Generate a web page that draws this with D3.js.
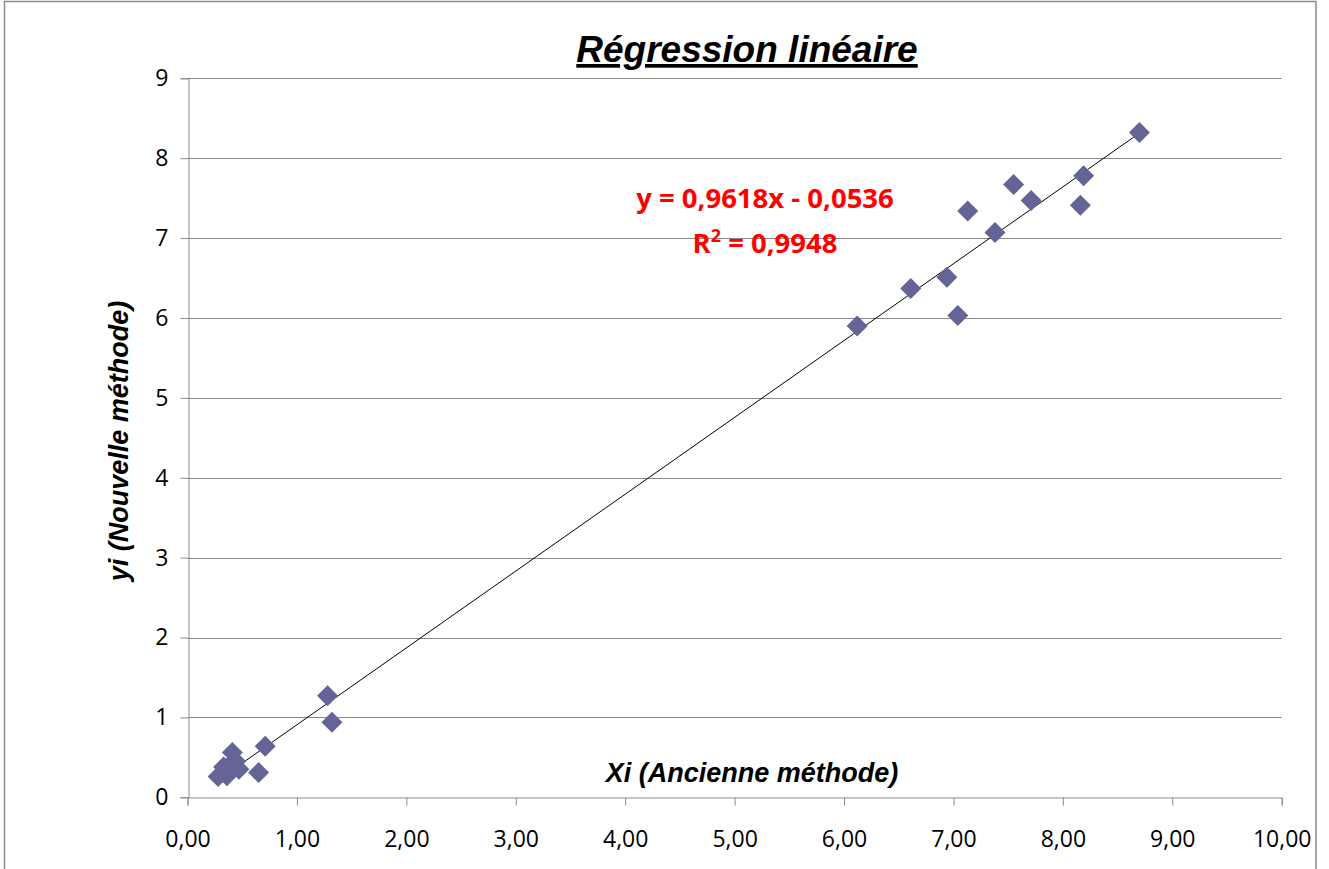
<!DOCTYPE html>
<html>
<head>
<meta charset="utf-8">
<script src="https://cdn.jsdelivr.net/npm/d3@7"></script>
<style>
  html, body { margin: 0; padding: 0; background: #fff; }
  svg { display: block; }
</style>
</head>
<body>
<svg id="chart" width="1329" height="869"></svg>
<script>
// ---- Data ----
const xValues = [0.28, 0.36, 0.33, 0.40, 0.41, 0.47, 0.44, 0.65, 0.71, 1.28, 1.32,
                 6.12, 6.61, 6.94, 7.04, 7.13, 7.38, 7.55, 7.71, 8.16, 8.19, 8.70];
const yValues = [0.26, 0.27, 0.38, 0.42, 0.56, 0.35, 0.45, 0.31, 0.64, 1.27, 0.94,
                 5.90, 6.37, 6.51, 6.03, 7.34, 7.07, 7.67, 7.47, 7.41, 7.78, 8.32];
const xTicks = [0, 1, 2, 3, 4, 5, 6, 7, 8, 9, 10];
const yTicks = [0, 1, 2, 3, 4, 5, 6, 7, 8, 9];
const trendSlope = 0.9618;
const trendIntercept = -0.0536;
const equationText = "y = 0,9618x - 0,0536";
const r2Text = " = 0,9948";
const titleText = "Régression linéaire";
const xLabel = "Xi (Ancienne méthode)";
const yLabel = "yi (Nouvelle méthode)";

const points = xValues.map((x, i) => ({ x, y: yValues[i] }));

// ---- Layout ----
const svg = d3.select("#chart");
const plotLeft = 187.5, plotRight = 1281.7, plotTop = 78.3, plotBottom = 797.3;

const x = d3.scaleLinear().domain([0, 10]).range([plotLeft, plotRight]);
const y = d3.scaleLinear().domain([0, 9]).range([plotBottom, plotTop]);

const gridColor = "#878787";
const axisColor = "#8c8c8c";
const fmtX = d => d.toFixed(2).replace(".", ",");

// chart border
svg.append("rect")
  .attr("x", 4.5).attr("y", 1.5)
  .attr("width", 1311.5).attr("height", 900)
  .attr("fill", "#fff").attr("stroke", "#8c8c8c").attr("stroke-width", 1.5);

// horizontal gridlines
svg.append("g").selectAll("line")
  .data(yTicks.filter(d => d > 0))
  .join("line")
  .attr("x1", plotLeft).attr("x2", plotRight)
  .attr("y1", d => Math.round(y(d)) + 0.5)
  .attr("y2", d => Math.round(y(d)) + 0.5)
  .attr("stroke", gridColor).attr("stroke-width", 1);

// Y axis
const yAxis = d3.axisLeft(y).tickValues(yTicks).tickSize(8).tickPadding(12)
  .tickFormat(d3.format("d"));
const gy = svg.append("g")
  .attr("transform", `translate(${Math.round(plotLeft) + 0.5},0)`)
  .call(yAxis);
gy.select(".domain").attr("stroke", axisColor);
gy.selectAll(".tick line").attr("stroke", axisColor);
gy.selectAll(".tick text")
  .attr("fill", "#000")
  .style("font-family", "'Open Sans', sans-serif")
  .style("font-size", "23px");

// X axis
const xAxis = d3.axisBottom(x).tickValues(xTicks).tickSize(8).tickPadding(25)
  .tickFormat(fmtX);
const gx = svg.append("g")
  .attr("transform", `translate(0,${Math.round(plotBottom) + 0.5})`)
  .call(xAxis);
gx.select(".domain").attr("stroke", axisColor);
gx.selectAll(".tick line").attr("stroke", axisColor);
gx.selectAll(".tick text")
  .attr("fill", "#000")
  .style("font-family", "'Open Sans', sans-serif")
  .style("font-size", "23px");

// trendline
const xMin = d3.min(xValues), xMax = d3.max(xValues);
svg.append("line")
  .attr("x1", x(xMin)).attr("y1", y(trendSlope * xMin + trendIntercept))
  .attr("x2", x(xMax)).attr("y2", y(trendSlope * xMax + trendIntercept))
  .attr("stroke", "#000").attr("stroke-width", 1);

// markers (diamonds)
const s = 10.5;
svg.append("g").selectAll("path")
  .data(points)
  .join("path")
  .attr("transform", d => `translate(${x(d.x)},${y(d.y)})`)
  .attr("d", `M0,${-s} L${s},0 L0,${s} L${-s},0 Z`)
  .attr("fill", "#646497");

// equation text
svg.append("text")
  .attr("x", 765).attr("y", 208)
  .attr("text-anchor", "middle")
  .attr("fill", "#ff0000")
  .style("font-family", "'Open Sans', sans-serif")
  .style("font-weight", "bold")
  .style("font-size", "27.5px")
  .text(equationText);

const r2 = svg.append("text")
  .attr("x", 765).attr("y", 253)
  .attr("text-anchor", "middle")
  .attr("fill", "#ff0000")
  .style("font-family", "'Open Sans', sans-serif")
  .style("font-weight", "bold")
  .style("font-size", "27.5px");
r2.append("tspan").text("R");
r2.append("tspan").attr("dy", -11).style("font-size", "18px").text("2");
r2.append("tspan").attr("dy", 11).text(r2Text);

// title
svg.append("text")
  .attr("x", 747).attr("y", 62)
  .attr("text-anchor", "middle")
  .attr("fill", "#000")
  .style("font-family", "'Liberation Sans', Arial, sans-serif")
  .style("font-weight", "bold")
  .style("font-style", "italic")
  .style("font-size", "37px")
  .style("text-decoration", "underline")
  .text(titleText);

// x axis label (inside plot)
svg.append("text")
  .attr("x", 752).attr("y", 782)
  .attr("text-anchor", "middle")
  .attr("fill", "#000")
  .style("font-family", "'Liberation Sans', Arial, sans-serif")
  .style("font-weight", "bold")
  .style("font-style", "italic")
  .style("font-size", "27px")
  .text(xLabel);

// y axis label
svg.append("text")
  .attr("transform", "translate(128,441) rotate(-90)")
  .attr("text-anchor", "middle")
  .attr("fill", "#000")
  .style("font-family", "'Liberation Sans', Arial, sans-serif")
  .style("font-weight", "bold")
  .style("font-style", "italic")
  .style("font-size", "27px")
  .text(yLabel);
</script>
</body>
</html>
